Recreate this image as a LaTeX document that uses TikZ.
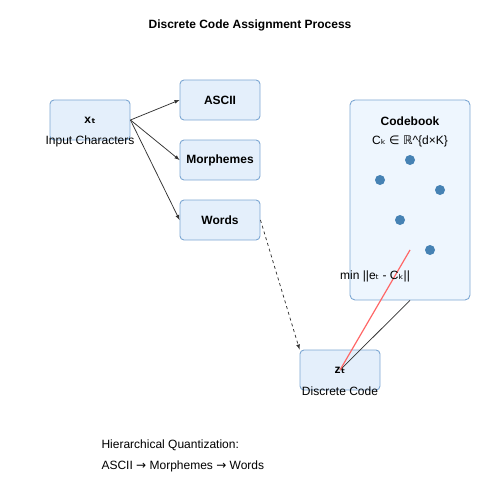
\documentclass[tikz,border=0pt]{standalone}
\usepackage{fontspec}
\setmainfont{Liberation Sans}
\newfontfamily\symfont{DejaVu Sans}
\newcommand{\sub}[1]{{\symfont #1}}
\usetikzlibrary{positioning}
\definecolor{boxfill}{HTML}{E4EFFB}
\definecolor{boxline}{HTML}{7DA7D3}
\definecolor{cbfill}{HTML}{EEF6FE}
\definecolor{dotblue}{HTML}{4682B4}
\definecolor{linkred}{HTML}{FF6666}
\definecolor{linkgray}{HTML}{333333}
\tikzset{
  stage/.style={draw=boxline, fill=boxfill, rounded corners=4pt, line width=0.9pt,
    minimum width=80pt, minimum height=40pt, font=\bfseries\fontsize{12}{14}\selectfont},
  codeword/.style={circle, fill=dotblue, inner sep=0pt, minimum size=10pt},
  link/.style={linkgray, line width=0.75pt}
}
\begin{document}
\begin{tikzpicture}[>=latex, x=1pt, y=-1pt, font=\fontsize{12}{14}\selectfont]
\useasboundingbox (0,0) rectangle (500,500);
\node[font=\bfseries\fontsize{12}{14}\selectfont] (title) at (250,25) {Discrete Code Assignment Process};
\node[stage] (xin) at (90,120) {x\sub{ₜ}};
\node at ([yshift=-1pt]xin.south) {Input Characters};
\node[stage] (ascii) at (220,100) {ASCII};
\node[stage] (morph) at (220,160) {Morphemes};
\node[stage] (words) at (220,220) {Words};
\draw[->, link](xin.east)--(ascii.west);
\draw[->, link](xin.east)--(morph.west);
\draw[->, link](xin.east)--(words.west);
\node[draw=boxline, fill=cbfill, rounded corners=5pt, line width=0.9pt,
  minimum width=120pt, minimum height=200pt] (cb) at (410,200) {};
\node[font=\bfseries\fontsize{12}{14}\selectfont] (cbtitle) at (410,121) {Codebook};
\node (cbspace) at (410,141) {C\sub{ₖ} \sub{∈} \sub{ℝ}\^{}\{d×K\}};
\node[codeword] (c1) at (410,160) {};
\node[codeword] (c2) at (380,180) {};
\node[codeword] (c3) at (440,190) {};
\node[codeword] (c4) at (400,220) {};
\node[codeword] (c5) at (430,250) {};
\node[stage] (zout) at (340,370) {z\sub{ₜ}};
\node at ([yshift=-1pt]zout.south) {Discrete Code};
\draw[->, dashed, link](words.east)--(zout.north west);
\draw[link](cb.south)--(zout.center);
\coordinate (near) at (410,250);
\draw[linkred, line width=1.2pt](near)--(zout.center);
\node (dist) at (375,276) {min ||e\sub{ₜ} - C\sub{ₖ}||};
\node[anchor=west] (hq) at (98,445) {Hierarchical Quantization:};
\node[anchor=west] (hqpath) at (98,466) {ASCII \sub{→} Morphemes \sub{→} Words};
\end{tikzpicture}
\end{document}
